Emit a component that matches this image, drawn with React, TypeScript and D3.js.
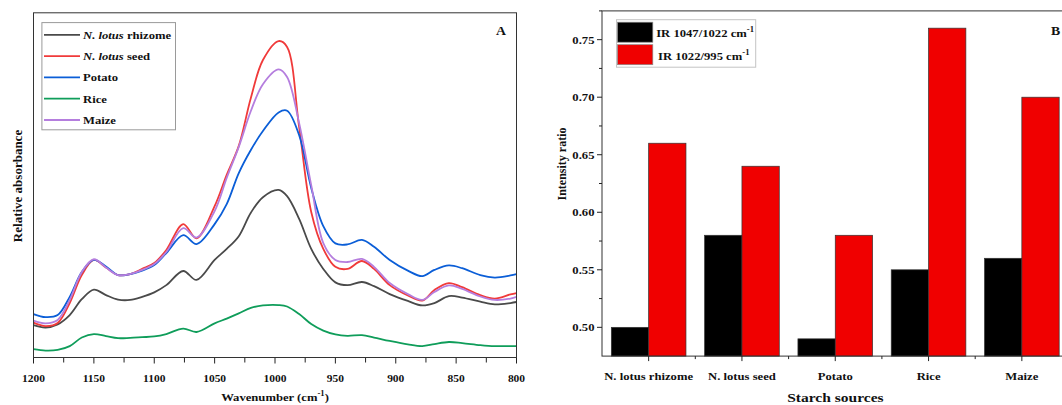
import React, { useEffect, useRef } from 'react';
import * as d3 from 'd3';

// FTIR spectra (panel A), relative absorbance
const wavenumbers = [1200, 1190, 1180, 1170, 1160, 1150, 1140, 1130, 1120, 1110, 1100, 1090, 1076, 1065, 1050, 1040, 1030, 1020, 1010, 997, 990, 980, 970, 960, 950, 940, 928, 918, 905, 890, 878, 868, 856, 845, 830, 818, 805, 800];
const rhizome = [0.094, 0.087, 0.096, 0.123, 0.169, 0.197, 0.181, 0.168, 0.167, 0.176, 0.189, 0.210, 0.251, 0.225, 0.283, 0.315, 0.352, 0.420, 0.465, 0.486, 0.468, 0.402, 0.315, 0.257, 0.218, 0.210, 0.219, 0.207, 0.184, 0.164, 0.151, 0.158, 0.178, 0.174, 0.162, 0.154, 0.158, 0.161];
const seed = [0.101, 0.091, 0.100, 0.158, 0.239, 0.283, 0.261, 0.239, 0.242, 0.257, 0.274, 0.312, 0.387, 0.346, 0.439, 0.530, 0.614, 0.753, 0.863, 0.918, 0.901, 0.668, 0.422, 0.315, 0.263, 0.257, 0.280, 0.257, 0.210, 0.180, 0.165, 0.196, 0.216, 0.204, 0.181, 0.171, 0.183, 0.187];
const potato = [0.126, 0.117, 0.123, 0.176, 0.248, 0.283, 0.264, 0.239, 0.242, 0.252, 0.268, 0.303, 0.355, 0.329, 0.387, 0.445, 0.535, 0.602, 0.657, 0.711, 0.716, 0.645, 0.492, 0.381, 0.331, 0.328, 0.341, 0.321, 0.283, 0.252, 0.236, 0.254, 0.267, 0.259, 0.239, 0.232, 0.238, 0.242];
const rice = [0.024, 0.020, 0.022, 0.033, 0.058, 0.068, 0.062, 0.056, 0.057, 0.059, 0.061, 0.068, 0.084, 0.074, 0.099, 0.113, 0.128, 0.144, 0.151, 0.152, 0.148, 0.126, 0.097, 0.078, 0.067, 0.063, 0.065, 0.058, 0.048, 0.038, 0.033, 0.039, 0.045, 0.042, 0.036, 0.033, 0.033, 0.033];
const maize = [0.107, 0.099, 0.109, 0.167, 0.248, 0.285, 0.261, 0.239, 0.242, 0.254, 0.271, 0.306, 0.375, 0.348, 0.425, 0.521, 0.611, 0.715, 0.793, 0.836, 0.814, 0.680, 0.500, 0.332, 0.283, 0.277, 0.286, 0.263, 0.216, 0.184, 0.167, 0.190, 0.209, 0.199, 0.177, 0.167, 0.171, 0.176];
const spectraNames = ['rhizome', 'seed', 'Potato', 'Rice', 'Maize'];
const wnTicks = [1200, 1150, 1100, 1050, 1000, 950, 900, 850, 800];

// Intensity ratios (panel B)
const sources = ['N. lotus rhizome', 'N. lotus seed', 'Potato', 'Rice', 'Maize'];
const ir1047 = [0.50, 0.58, 0.49, 0.55, 0.56];
const ir1022 = [0.66, 0.64, 0.58, 0.76, 0.70];
const ratioTicks = [0.50, 0.55, 0.60, 0.65, 0.70, 0.75];

const spectraColors = ['#4a4a4a', '#f03a3a', '#0b5ed7', '#0f9d5a', '#b57ede'];
const barColors = ['#000000', '#f00000'];

const W = 1062, H = 405;
const FONT = '"Liberation Serif", "Times New Roman", serif';
const SX = 1.15; // the figure is stretched a bit horizontally

const A = { left: 33.5, right: 516.5, top: 12.8, bottom: 357.5 };
const B = { left: 602, right: 1068.5, top: 10.9, bottom: 356.1 };

function label(g: any, x: number, y: number, size: number, anchor = 'start') {
  return g.append('text')
    .attr('transform', `translate(${x},${y}) scale(${SX},1)`)
    .attr('text-anchor', anchor)
    .attr('font-family', FONT)
    .attr('font-weight', 'bold')
    .attr('font-size', size)
    .attr('fill', '#111');
}

function drawSpectra(g: any) {
  const x = d3.scaleLinear().domain([1200, 800]).range([A.left, A.right]);
  const y = d3.scaleLinear().domain([0, 1]).range([A.bottom, A.top]);
  const series = [rhizome, seed, potato, rice, maize];

  g.append('clipPath').attr('id', 'clipA')
    .append('rect').attr('x', A.left).attr('y', A.top)
    .attr('width', A.right - A.left).attr('height', A.bottom - A.top);

  const line = d3.line<number>()
    .x((_, i) => x(wavenumbers[i]))
    .y(d => y(d))
    .curve(d3.curveCatmullRom.alpha(0.5));

  const lines = g.append('g').attr('clip-path', 'url(#clipA)');
  series.forEach((s, i) => {
    lines.append('path').attr('d', line(s)).attr('fill', 'none')
      .attr('stroke', spectraColors[i]).attr('stroke-width', 1.8);
  });

  // ticks on the bottom axis (major every 50, minor every 25)
  d3.range(800, 1201, 25).forEach(v => {
    const major = v % 50 === 0;
    g.append('line').attr('x1', x(v)).attr('x2', x(v))
      .attr('y1', A.bottom).attr('y2', A.bottom + (major ? 6 : 5))
      .attr('stroke', '#222').attr('stroke-width', 1);
  });
  wnTicks.forEach(v => {
    label(g, x(v), 381.5, 10, 'middle').text(String(v));
  });

  g.append('rect').attr('x', A.left).attr('y', A.top)
    .attr('width', A.right - A.left).attr('height', A.bottom - A.top)
    .attr('fill', 'none').attr('stroke', '#333').attr('stroke-width', 1);

  const xt = label(g, 275, 401, 11, 'middle');
  xt.append('tspan').text('Wavenumber (cm');
  xt.append('tspan').attr('font-size', 7.5).attr('dy', -5).text('-1');
  xt.append('tspan').attr('dy', 5).text(')');

  g.append('text')
    .attr('transform', `translate(22,186) rotate(-90)`)
    .attr('text-anchor', 'middle')
    .attr('font-family', FONT).attr('font-weight', 'bold').attr('font-size', 13)
    .attr('fill', '#111').text('Relative absorbance');

  label(g, 506, 34.5, 12, 'end').text('A');

  // legend
  g.append('rect').attr('x', 41.9).attr('y', 22.6).attr('width', 133.6).attr('height', 107.2)
    .attr('fill', '#fff').attr('stroke', '#9a9a9a').attr('stroke-width', 1);
  const rowY = d3.scalePoint().domain(spectraNames).range([34.8, 120]);
  spectraNames.forEach((name, i) => {
    const cy = rowY(name) as number;
    g.append('line').attr('x1', 44).attr('x2', 80).attr('y1', cy).attr('y2', cy)
      .attr('stroke', spectraColors[i]).attr('stroke-width', 1.8);
    const t = label(g, 83, cy + 4, 11);
    if (i < 2) {
      t.append('tspan').attr('font-style', 'italic').text('N. lotus');
      t.append('tspan').text(' ' + name);
    } else {
      t.text(name);
    }
  });
}

function drawBars(g: any) {
  const y = d3.scaleLinear().domain([0.475, 0.775]).range([B.bottom, B.top]);
  const x0 = d3.scaleBand().domain(sources).range([B.left, B.right]);
  const keys = ['ir1047', 'ir1022'];
  const x1 = d3.scaleBand().domain(keys).range([0, x0.bandwidth()]).paddingInner(0).paddingOuter(0.25);
  const values = [ir1047, ir1022];

  sources.forEach((src, i) => {
    keys.forEach((k, j) => {
      const v = values[j][i];
      g.append('rect')
        .attr('x', (x0(src) as number) + (x1(k) as number))
        .attr('y', y(v))
        .attr('width', x1.bandwidth())
        .attr('height', y(0.475) - y(v))
        .attr('fill', barColors[j])
        .attr('stroke', '#333').attr('stroke-width', 0.7);
    });
  });

  // frame
  g.append('rect').attr('x', B.left).attr('y', B.top)
    .attr('width', B.right - B.left).attr('height', B.bottom - B.top)
    .attr('fill', 'none').attr('stroke', '#333').attr('stroke-width', 1);

  // y ticks
  ratioTicks.forEach(v => {
    g.append('line').attr('x1', B.left - 5).attr('x2', B.left).attr('y1', y(v)).attr('y2', y(v))
      .attr('stroke', '#222');
    label(g, 594.5, y(v) + 4, 11, 'end').text(v.toFixed(2));
  });
  ratioTicks.forEach(v => {
    const m = v + 0.025;
    g.append('line').attr('x1', B.left - 3).attr('x2', B.left).attr('y1', y(m)).attr('y2', y(m))
      .attr('stroke', '#222');
  });

  // x ticks
  sources.forEach((src, i) => {
    const cx = (x0(src) as number) + x0.bandwidth() / 2;
    g.append('line').attr('x1', cx).attr('x2', cx).attr('y1', B.bottom).attr('y2', B.bottom + 5)
      .attr('stroke', '#222');
    if (i > 0) {
      const bx = x0(src) as number;
      g.append('line').attr('x1', bx).attr('x2', bx).attr('y1', B.bottom).attr('y2', B.bottom + 3)
        .attr('stroke', '#222');
    }
    label(g, cx, 379.5, 11, 'middle').text(src);
  });

  label(g, 835.4, 402, 13.5, 'middle').text('Starch sources');

  g.append('text')
    .attr('transform', `translate(565.5,164) rotate(-90)`)
    .attr('text-anchor', 'middle')
    .attr('font-family', FONT).attr('font-weight', 'bold').attr('font-size', 12)
    .attr('fill', '#111').text('Intensity ratio');

  label(g, 1050.9, 34.5, 12).text('B');

  // legend
  g.append('rect').attr('x', 616.5).attr('y', 19.7).attr('width', 139.2).attr('height', 47.5)
    .attr('fill', '#fff').attr('stroke', '#c4c4c4').attr('stroke-width', 1);
  const legendText = [['IR 1047/1022 cm', 656.2], ['IR 1022/995 cm', 658]];
  const rowY = d3.scalePoint().domain(keys).range([32.2, 54.7]);
  keys.forEach((k, j) => {
    const cy = rowY(k) as number;
    g.append('rect').attr('x', 617.5).attr('y', cy - 10).attr('width', 35.3).attr('height', 20)
      .attr('fill', barColors[j]).attr('stroke', '#888').attr('stroke-width', 0.7);
    const t = label(g, legendText[j][1] as number, cy + 5, 11);
    t.append('tspan').text(legendText[j][0] as string);
    t.append('tspan').attr('font-size', 7.5).attr('dy', -5).text('-1');
  });
}

export default function App() {
  const ref = useRef<SVGSVGElement>(null);

  useEffect(() => {
    const svg = d3.select(ref.current);
    svg.selectAll('*').remove();
    svg.append('rect').attr('width', W).attr('height', H).attr('fill', '#fff');
    drawSpectra(svg.append('g'));
    drawBars(svg.append('g'));
  }, []);

  return (
    <svg ref={ref} width={W} height={H}
      style={{ position: 'absolute', left: 0, top: 0, background: '#fff' }} />
  );
}
